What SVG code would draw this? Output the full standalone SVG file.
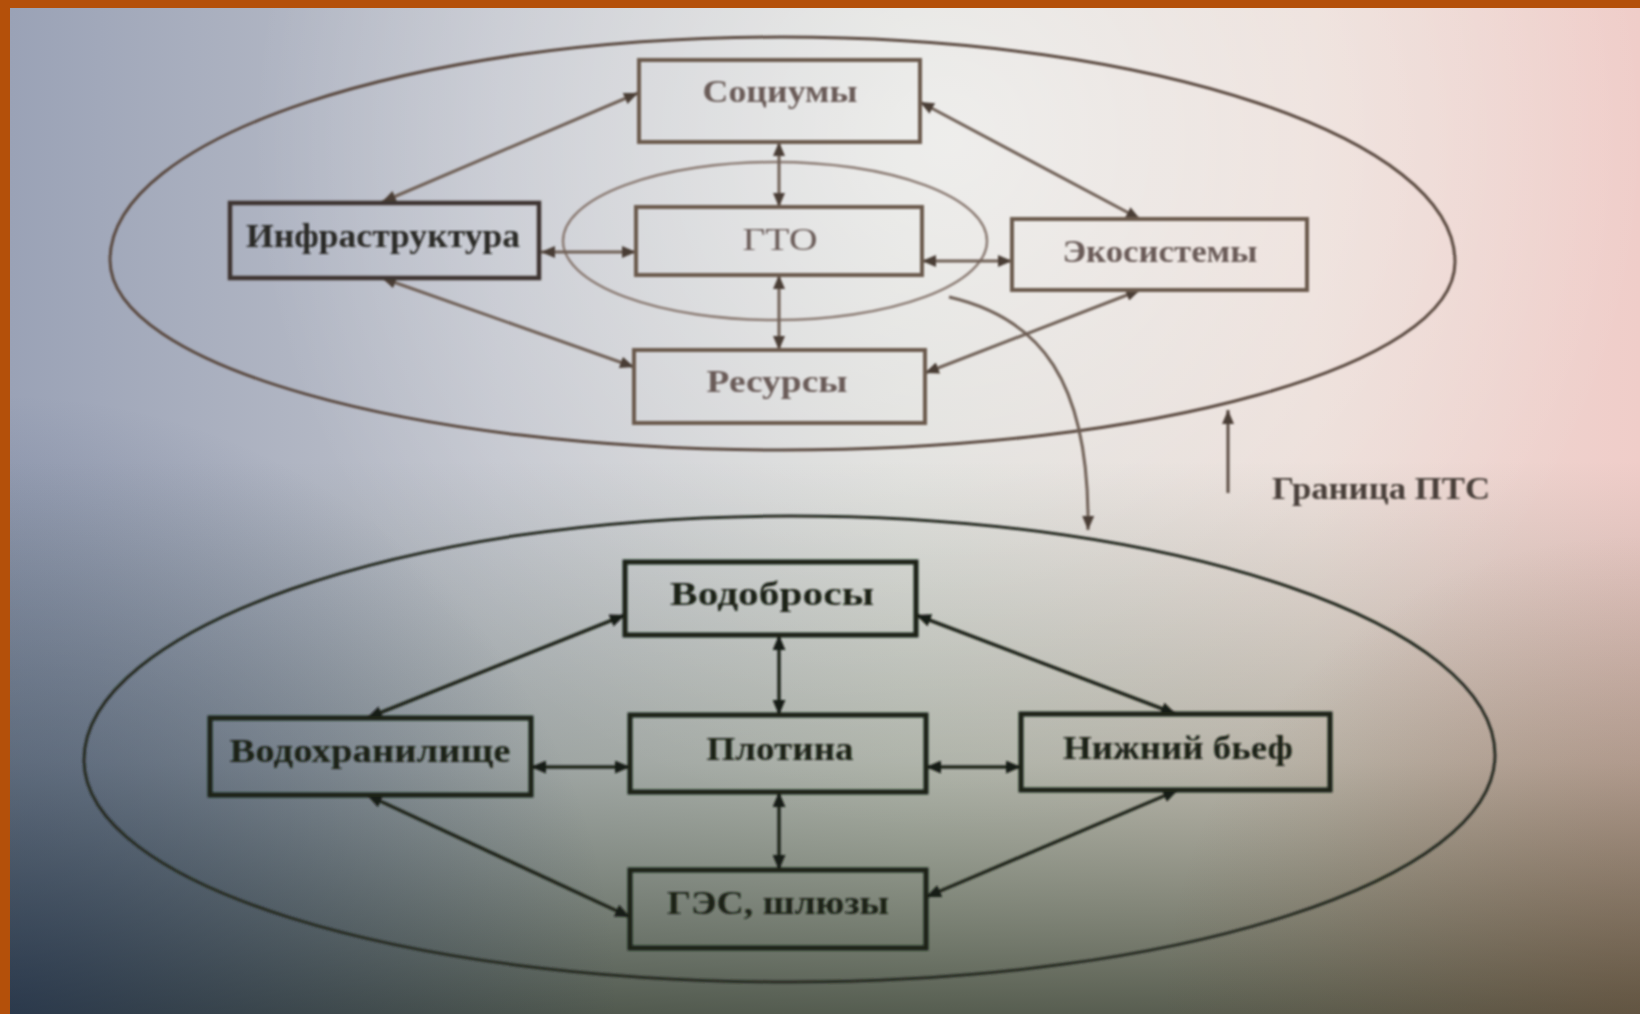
<svg xmlns="http://www.w3.org/2000/svg" width="1640" height="1014" viewBox="0 0 1640 1014">
  <defs>
    <linearGradient id="paperBase" x1="0" y1="0" x2="1" y2="0">
      <stop offset="0" stop-color="#9aa2b6"/>
      <stop offset="0.3" stop-color="#c0c3cc"/>
      <stop offset="0.55" stop-color="#d8d8d4"/>
      <stop offset="0.8" stop-color="#eadbd5"/>
      <stop offset="1" stop-color="#f0cdc9"/>
    </linearGradient>
    <radialGradient id="glow" cx="950" cy="140" r="700" gradientUnits="userSpaceOnUse">
      <stop offset="0" stop-color="#ffffff" stop-opacity="0.55"/>
      <stop offset="1" stop-color="#ffffff" stop-opacity="0"/>
    </radialGradient>
    <linearGradient id="shadeDown" x1="0" y1="0" x2="0" y2="1">
      <stop offset="0" stop-color="#465a46" stop-opacity="0"/>
      <stop offset="0.45" stop-color="#465a46" stop-opacity="0"/>
      <stop offset="0.75" stop-color="#4a5a42" stop-opacity="0.3"/>
      <stop offset="1" stop-color="#2a3424" stop-opacity="0.75"/>
    </linearGradient>
    <radialGradient id="shadeLeft" cx="0" cy="1014" r="620" gradientUnits="userSpaceOnUse">
      <stop offset="0" stop-color="#14264e" stop-opacity="0.55"/>
      <stop offset="1" stop-color="#14264e" stop-opacity="0"/>
    </radialGradient>
    <radialGradient id="shadeRight" cx="1640" cy="1014" r="480" gradientUnits="userSpaceOnUse">
      <stop offset="0" stop-color="#6e4a2c" stop-opacity="0.35"/>
      <stop offset="1" stop-color="#6e4a2c" stop-opacity="0"/>
    </radialGradient>
    <filter id="soft" x="-5%" y="-5%" width="110%" height="110%">
      <feGaussianBlur stdDeviation="0.9"/>
    </filter>
    <marker id="tipTop" viewBox="0 0 14 12" refX="14" refY="6" markerWidth="14" markerHeight="12" markerUnits="userSpaceOnUse" orient="auto-start-reverse">
      <path d="M0,0 L14,6 L0,12 z" fill="#4a3c34"/>
    </marker>
    <marker id="tipBottom" viewBox="0 0 14 12" refX="14" refY="6" markerWidth="15" markerHeight="13" markerUnits="userSpaceOnUse" orient="auto-start-reverse">
      <path d="M0,0 L14,6 L0,12 z" fill="#151a12"/>
    </marker>
    <style>
      .top-line { stroke: #6e5f55; stroke-width: 3; fill: none; marker-start: url(#tipTop); marker-end: url(#tipTop); }
      .bot-line { stroke: #20261c; stroke-width: 3.5; fill: none; marker-start: url(#tipBottom); marker-end: url(#tipBottom); }
      .top-box { fill: none; stroke: #6a5a4e; stroke-width: 4; }
      .infra-box { fill: none; stroke: #3c3630; stroke-width: 4.5; }
      .bot-box { fill: none; stroke: #1c2218; stroke-width: 5; }
      .lbl { font-family: "Liberation Serif", "Times New Roman", serif; text-anchor: middle; }
      .lbl-top { fill: #6a5c58; font-size: 32px; font-weight: bold; }
      .lbl-infra { fill: #2c2a26; font-size: 34px; font-weight: bold; }
      .lbl-bot { fill: #1a2016; font-size: 34px; font-weight: bold; }
    </style>
  </defs>

  <!-- frame and paper -->
  <rect x="0" y="0" width="1640" height="1014" fill="#b4500a"/>
  <rect x="10" y="8" width="1630" height="1006" fill="url(#paperBase)"/>
  <rect x="10" y="8" width="1630" height="1006" fill="url(#glow)"/>
  <rect x="10" y="8" width="1630" height="1006" fill="url(#shadeDown)"/>
  <rect x="10" y="8" width="1630" height="1006" fill="url(#shadeLeft)"/>
  <rect x="10" y="8" width="1630" height="1006" fill="url(#shadeRight)"/>

  <g filter="url(#soft)">
    <!-- system boundaries -->
    <g id="boundaries" fill="none">
      <path id="pts-boundary" d="M110,260 C110,137 411,37 782,37 C1153,37 1455,138 1455,262 C1455,366 1153,450 782,450 C411,450 110,365 110,260 Z" stroke="#5a4a40" stroke-width="3"/>
      <ellipse id="gto-area" cx="775" cy="241" rx="212" ry="79" stroke="#8a7a72" stroke-width="2.5"/>
      <path id="hydro-boundary" d="M84,760 C84,630 400,516 790,516 C1180,516 1495,625 1495,755 C1495,880 1180,982 790,982 C400,982 84,885 84,760 Z" stroke="#262c24" stroke-width="3"/>
    </g>

    <!-- connectors -->
    <g id="connectors">
      <line class="top-line" x1="382" y1="202" x2="638" y2="93"/>
      <line class="top-line" x1="382" y1="278" x2="634" y2="367"/>
      <line class="top-line" x1="541" y1="252" x2="636" y2="252"/>
      <line class="top-line" x1="779" y1="142" x2="779" y2="207"/>
      <line class="top-line" x1="779" y1="275" x2="779" y2="350"/>
      <line class="top-line" x1="920" y1="102" x2="1140" y2="219"/>
      <line class="top-line" x1="922" y1="261" x2="1012" y2="261"/>
      <line class="top-line" x1="925" y1="373" x2="1140" y2="290"/>

      <line class="bot-line" x1="367" y1="718" x2="625" y2="615"/>
      <line class="bot-line" x1="367" y1="795" x2="630" y2="917"/>
      <line class="bot-line" x1="531" y1="767" x2="630" y2="767"/>
      <line class="bot-line" x1="779" y1="635" x2="779" y2="715"/>
      <line class="bot-line" x1="779" y1="792" x2="779" y2="870"/>
      <line class="bot-line" x1="916" y1="615" x2="1176" y2="714"/>
      <line class="bot-line" x1="926" y1="767" x2="1021" y2="767"/>
      <line class="bot-line" x1="926" y1="897" x2="1178" y2="790"/>

      <path d="M949,297 C1040,318 1090,380 1088,530" stroke="#6e5f55" stroke-width="3" fill="none" marker-end="url(#tipTop)"/>
      <line x1="1228" y1="493" x2="1228" y2="410" stroke="#5a4a40" stroke-width="3" marker-end="url(#tipTop)"/>
    </g>

    <!-- upper level: natural-technical system -->
    <g id="node-socium">
      <rect class="top-box" x="639" y="60" width="281" height="82"/>
      <text class="lbl lbl-top" x="780" y="102" textLength="155" lengthAdjust="spacingAndGlyphs">Социумы</text>
    </g>
    <g id="node-infra">
      <rect class="infra-box" x="230" y="203" width="309" height="75"/>
      <text class="lbl lbl-infra" x="383" y="247" textLength="274" lengthAdjust="spacingAndGlyphs">Инфраструктура</text>
    </g>
    <g id="node-gto">
      <rect class="top-box" x="636" y="207" width="286" height="68"/>
      <text class="lbl lbl-top" x="780" y="250" font-size="36" textLength="75" lengthAdjust="spacingAndGlyphs" style="font-weight:normal">ГТО</text>
    </g>
    <g id="node-eco">
      <rect class="top-box" x="1012" y="219" width="295" height="71"/>
      <text class="lbl lbl-top" x="1160" y="262" textLength="195" lengthAdjust="spacingAndGlyphs">Экосистемы</text>
    </g>
    <g id="node-resources">
      <rect class="top-box" x="634" y="350" width="291" height="73"/>
      <text class="lbl lbl-top" x="777" y="392" textLength="141" lengthAdjust="spacingAndGlyphs">Ресурсы</text>
    </g>

    <!-- lower level: hydro-engineering complex -->
    <g id="node-spillways">
      <rect class="bot-box" x="625" y="562" width="291" height="73"/>
      <text class="lbl lbl-bot" x="772" y="605" textLength="204" lengthAdjust="spacingAndGlyphs">Водобросы</text>
    </g>
    <g id="node-reservoir">
      <rect class="bot-box" x="210" y="718" width="321" height="77"/>
      <text class="lbl lbl-bot" x="370" y="762" font-size="36" textLength="281" lengthAdjust="spacingAndGlyphs">Водохранилище</text>
    </g>
    <g id="node-dam">
      <rect class="bot-box" x="630" y="715" width="296" height="77"/>
      <text class="lbl lbl-bot" x="780" y="760" textLength="147" lengthAdjust="spacingAndGlyphs">Плотина</text>
    </g>
    <g id="node-tailwater">
      <rect class="bot-box" x="1021" y="714" width="309" height="76"/>
      <text class="lbl lbl-bot" x="1178" y="759" textLength="230" lengthAdjust="spacingAndGlyphs">Нижний бьеф</text>
    </g>
    <g id="node-hpp">
      <rect class="bot-box" x="630" y="870" width="296" height="78"/>
      <text class="lbl lbl-bot" x="778" y="914" textLength="222" lengthAdjust="spacingAndGlyphs">ГЭС, шлюзы</text>
    </g>

    <g id="label-boundary">
      <text class="lbl" x="1381" y="499" font-size="32" font-weight="bold" fill="#4a403a" textLength="218" lengthAdjust="spacingAndGlyphs">Граница ПТС</text>
    </g>
  </g>
</svg>
